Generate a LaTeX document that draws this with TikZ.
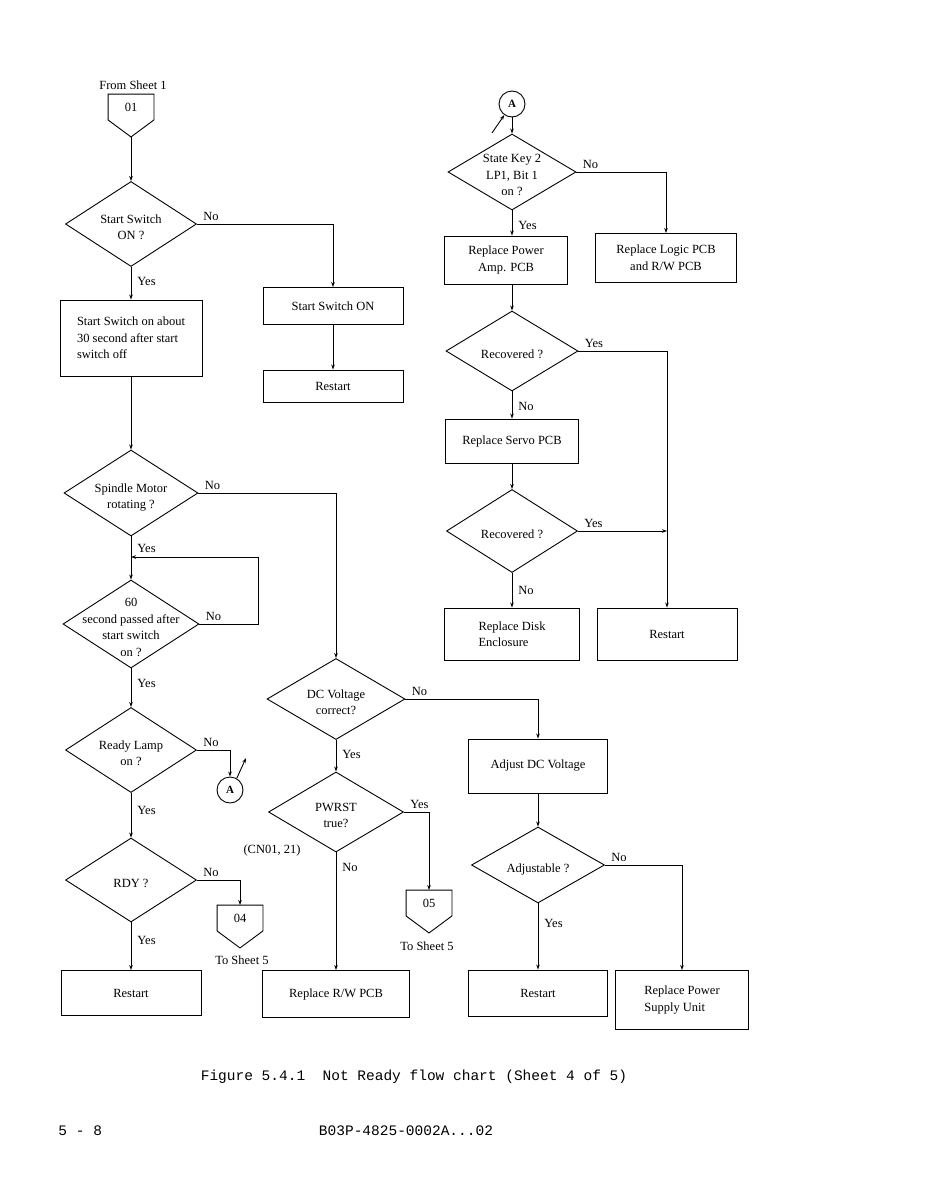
\documentclass[tikz,border=0pt]{standalone}
\usepackage{fontspec}
\setmainfont{Liberation Serif}
\newfontfamily\typewriter{Liberation Mono}
\usetikzlibrary{shapes.geometric, arrows.meta, calc}

% text inside a diamond must not resize it
\newcommand{\dtext}[1]{\makebox[0pt]{\smash{\raisebox{-7pt}{\begin{tabular}{@{}c@{}}#1\end{tabular}}}}}

\begin{document}
\begin{tikzpicture}[
        x=1pt, y=-1pt,
        line width=0.9pt,
        font=\fontsize{12.5}{16.5}\selectfont,
        decision/.style={diamond, draw, inner sep=0pt, minimum width=132, minimum height=84},
        process/.style={rectangle, draw, minimum width=140, minimum height=46, align=center},
        connector/.style={circle, draw, minimum size=26, inner sep=0pt, font=\fontsize{11}{13}\selectfont\bfseries},
        offpage/.style={minimum width=45, minimum height=25, inner sep=0pt},
        link/.style={-{Stealth[length=5pt, width=3.5pt]}},
        hlbl/.style={pos=0, anchor=south west, inner sep=1pt, xshift=5pt, yshift=2pt},
        vlbl/.style={pos=0, anchor=west, inner sep=1pt, xshift=5pt, yshift=-15pt},
        caption/.style={font=\typewriter\fontsize{14.5}{17}\selectfont, inner sep=0pt}
    ]
    \useasboundingbox (0,0) rectangle (927,1191);

    % Left column
    \node (from) at (133,85) {From Sheet 1};
    \node[offpage] (c01) at (131,107) {01};
    \node[decision, minimum width=131, minimum height=85] (dStart) at (131,224) {\dtext{Start Switch\\ON ?}};
    \node[process, minimum width=142, minimum height=76, align=left] (bWait) at (131,338) {Start Switch on about\\30 second after start\\switch off};
    \node[decision, minimum width=134, minimum height=86] (dSpin) at (131,493) {\dtext{Spindle Motor\\rotating ?}};
    \node[decision, minimum width=136, minimum height=88] (d60) at (131,624) {\dtext{60\\second passed after\\start switch\\on ?}};
    \node[decision, minimum width=131, minimum height=85] (dLamp) at (131,750) {\dtext{Ready Lamp\\on ?}};
    \node[decision, minimum width=131, minimum height=84] (dRdy) at (131,880) {\dtext{RDY ?}};
    \node[process, minimum height=45] (bRestartL) at (131,993) {Restart};
    \node[connector] (aLow) at (230,790) {A};
    \node[offpage] (c04) at (240,918) {04};
    \node (to04) at (242,960) {To Sheet 5};

    % Middle column
    \node[process, minimum height=37] (bOn) at (333,306) {Start Switch ON};
    \node[process, minimum height=32] (bRestartT) at (333,386) {Restart};
    \node[decision, minimum width=138, minimum height=81] (dDC) at (336,699) {\dtext{DC Voltage\\correct?}};
    \node[decision, minimum width=135, minimum height=80] (dPw) at (336,812) {\dtext{PWRST\\true?}};
    \node (cn) at (272,850) {(CN01, 21)};
    \node[offpage] (c05) at (429,903) {05};
    \node (to05) at (427,946) {To Sheet 5};
    \node[process, minimum width=147, minimum height=47] (bRW) at (336,994) {Replace R/W PCB};

    % Right column, lower part
    \node[process, minimum width=139, minimum height=54] (bAdj) at (538,766) {Adjust DC Voltage};
    \node[decision, minimum width=133, minimum height=76] (dAdj) at (538,865) {\dtext{Adjustable ?}};
    \node[process, minimum width=139] (bRestartB) at (538,993) {Restart};
    \node[process, minimum width=133, minimum height=59, align=left] (bPsu) at (682,1000) {Replace Power\\Supply Unit};

    % Right column, upper part
    \node[connector] (aTop) at (512,104) {A};
    \node[decision, minimum width=128, minimum height=76] (dKey) at (512,172) {\dtext{State Key 2\\LP1, Bit 1\\on ?}};
    \node[process, minimum width=123, minimum height=48] (bAmp) at (506,260) {Replace Power\\Amp. PCB};
    \node[process, minimum width=141, minimum height=49] (bLogic) at (666,258) {Replace Logic PCB\\and R/W PCB};
    \node[decision, minimum height=80] (dRec1) at (512,351) {\dtext{Recovered ?}};
    \node[process, minimum width=133, minimum height=44] (bServo) at (512,441) {Replace Servo PCB};
    \node[decision, minimum width=131, minimum height=83] (dRec2) at (512,531) {\dtext{Recovered ?}};
    \node[process, minimum width=135, minimum height=52, align=left] (bDisk) at (512,634) {Replace Disk\\Enclosure};
    \node[process, minimum width=140, minimum height=52] (bRestartR) at (667,634) {Restart};

    % Caption and page line
    \node[caption] (title) at (414,1077) {Figure 5.4.1\ \ Not Ready flow chart (Sheet 4 of 5)};
    \node[caption, anchor=west] (page) at (58,1131) {5 - 8};
    \node[caption] (docno) at (406,1131) {B03P-4825-0002A...02};

    % Off-sheet connectors
    \foreach \c in {c01, c04, c05} {
        \draw (\c.south west) |- (\c.north east) -- (\c.south east) -- ([yshift=-17pt]\c.south) -- cycle;
        \coordinate (\c tip) at ([yshift=-17pt]\c.south);
    }
    \coordinate (loopR) at (258,557);
    \coordinate (loopIn) at (131,557);
    \coordinate (aLowPtr) at (246,758);
    \coordinate (aTopPtr) at (492,133);
    \coordinate (join) at (dRec2.east -| bRestartR.north);

    % Edges, left column
    \draw[link] (c01tip) -- (dStart.north);
    \draw[link] (dStart.east) -| node[hlbl] {No} (bOn.north);
    \draw[link] (dStart.south) -- node[vlbl] {Yes} (bWait.north);
    \draw[link] (bOn) -- (bRestartT);
    \draw[link] (bWait) -- (dSpin);
    \draw[link] (dSpin.east) -| node[hlbl] {No} (dDC.north);
    \draw[link] (dSpin.south) -- node[pos=0, anchor=west, inner sep=1pt, xshift=5pt, yshift=-12pt] {Yes} (d60.north);
    \draw[link] (d60.east) -| node[hlbl] {No} (loopR) -- (loopIn);
    \draw[link] (d60.south) -- node[vlbl] {Yes} (dLamp.north);
    \draw[link] (dLamp.east) -| node[hlbl] {No} (aLow.north);
    \draw[link] (aLow.60) -- (aLowPtr);
    \draw[link] (dLamp.south) -- node[vlbl, yshift=-3pt] {Yes} (dRdy.north);
    \draw[link] (dRdy.east) -| node[hlbl] {No} (c04.north);
    \draw[link] (dRdy.south) -- node[vlbl, yshift=-3pt] {Yes} (bRestartL.north);

    % Edges, middle
    \draw[link] (dDC.east) -| node[hlbl] {No} (bAdj.north);
    \draw[link] (dDC.south) -- node[vlbl] {Yes} (dPw.north);
    \draw[link] (dPw.east) -| node[hlbl] {Yes} (c05.north);
    \draw[link] (dPw.south) -- node[vlbl] {No} (bRW.north);
    \draw[link] (bAdj) -- (dAdj);
    \draw[link] (dAdj.east) -| node[hlbl] {No} (bPsu.north);
    \draw[link] (dAdj.south) -- node[vlbl, yshift=-5pt] {Yes} (bRestartB.north);

    % Edges, right column
    \draw[link] (aTopPtr) -- (aTop.235);
    \draw[link] (aTop) -- (dKey);
    \draw[link] (dKey.east) -| node[hlbl] {No} (bLogic.north);
    \draw[link] (dKey.south) -- node[vlbl] {Yes} (dKey.south |- bAmp.north);
    \draw[link] (dRec1.north |- bAmp.south) -- (dRec1.north);
    \draw[link] (dRec1.east) -| node[hlbl] {Yes} (bRestartR.north);
    \draw[link] (dRec1.south) -- node[vlbl] {No} (bServo.north);
    \draw[link] (bServo) -- (dRec2);
    \draw[link] (dRec2.east) -- node[hlbl] {Yes} (join);
    \draw[link] (dRec2.south) -- node[vlbl, yshift=-3pt] {No} (bDisk.north);

\end{tikzpicture}
\end{document}
